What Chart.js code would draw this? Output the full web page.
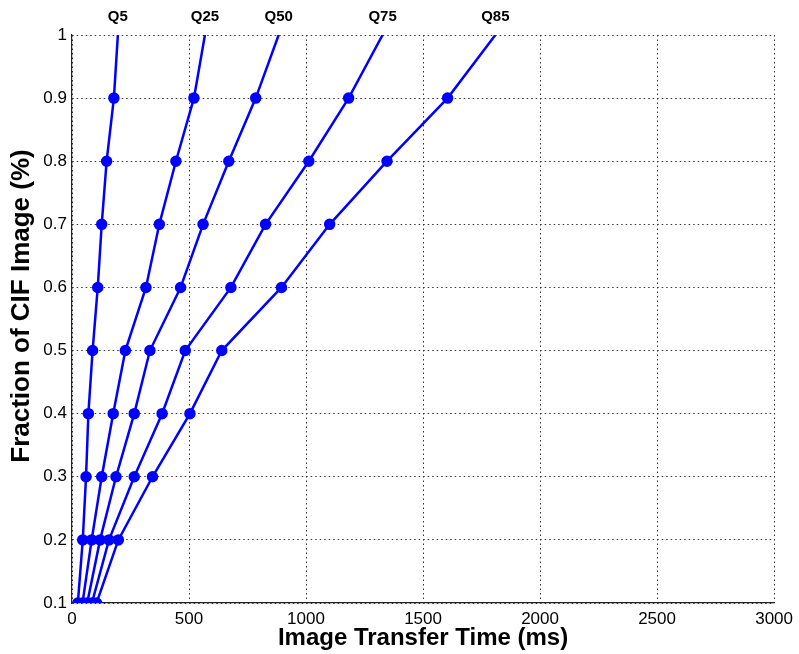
<!DOCTYPE html>
<html>
<head>
  <title>Image Transfer Time</title>
  <script src="https://cdn.jsdelivr.net/npm/chart.js"></script>
  <style>
    html, body { margin: 0; padding: 0; background: #fff; }
  </style>
</head>
<body>
  <canvas id="myChart" width="799" height="654"></canvas>

  <script>
// Fraction of the image received (y) against transfer time in ms (x)
const fractions = [0.1, 0.2, 0.3, 0.4, 0.5, 0.6, 0.7, 0.8, 0.9, 1.0];
const seriesNames = ['Q5', 'Q25', 'Q50', 'Q75', 'Q85'];

const q5  = [25, 46, 60, 70, 88, 110, 127, 148, 179, 196];
const q25 = [45, 84, 127, 176, 228, 316, 373, 444, 521, 568];
const q50 = [65, 120, 188, 266, 333, 464, 560, 670, 785, 883];
const q75 = [85, 158, 266, 385, 484, 679, 827, 1012, 1182, 1327];
const q85 = [105, 198, 344, 504, 640, 895, 1101, 1346, 1605, 1809];

const xTicks = [0, 500, 1000, 1500, 2000, 2500, 3000];
const yTicks = [0.1, 0.2, 0.3, 0.4, 0.5, 0.6, 0.7, 0.8, 0.9, 1.0];

const allSeries = [q5, q25, q50, q75, q85];

const font = '"Liberation Sans", Arial, sans-serif';

const datasets = allSeries.map((values, i) => ({
  label: seriesNames[i],
  data: values.map((t, j) => ({ x: t, y: fractions[j] })),
  borderColor: '#0000ff',
  backgroundColor: '#0000ff',
  borderWidth: 2.5,
  // no marker on the last point, the line just runs to the top edge
  pointRadius: values.map((v, j) => j === values.length - 1 ? 0 : 4.5),
  pointHoverRadius: 4.5,
  tension: 0
}));

// Q labels above the end of each curve, and the y title (sits a bit above centre)
const extraText = {
  id: 'extraText',
  afterDraw(chart) {
    const c = chart.ctx;
    const xs = chart.scales.x;
    c.save();
    c.font = 'bold 15px ' + font;
    c.fillStyle = '#000';
    c.textAlign = 'center';
    c.textBaseline = 'middle';
    allSeries.forEach((values, i) => {
      c.fillText(seriesNames[i], xs.getPixelForValue(values[values.length - 1]), 17);
    });

    c.translate(22, 306);
    c.rotate(-Math.PI / 2);
    c.font = 'bold 26px ' + font;
    c.fillText('Fraction of CIF Image (%)', 0, 0);
    c.restore();
  }
};

const ctx = document.getElementById('myChart');
const chart = new Chart(ctx, {
  type: 'line',
  data: { datasets: datasets },
  options: {
    responsive: false,
    animation: false,
    layout: { padding: { top: 35, right: 24, left: 0, bottom: 0 } },
    plugins: {
      legend: { display: false },
      tooltip: { enabled: false }
    },
    scales: {
      x: {
        type: 'linear',
        min: 0,
        max: 3000,
        afterBuildTicks: scale => { scale.ticks = xTicks.map(v => ({ value: v })); },
        afterFit: scale => { scale.height = 51; },
        grid: { color: '#333', lineWidth: 1, drawTicks: false },
        // in v4 border.dash styles the grid lines, the axis line stays solid
        border: { display: true, color: '#222', width: 1.2, dash: [1.5, 3] },
        ticks: {
          color: '#000',
          padding: 6,
          callback: v => String(v),
          font: { family: font, size: 17 }
        },
        title: {
          display: true,
          text: 'Image Transfer Time (ms)',
          color: '#000',
          padding: { top: 0, bottom: 1 },
          font: { family: font, size: 24, weight: 'bold' }
        }
      },
      y: {
        type: 'linear',
        min: 0.1,
        max: 1,
        afterBuildTicks: scale => { scale.ticks = yTicks.map(v => ({ value: v })); },
        afterFit: scale => { scale.width = 72; },
        grid: { color: '#333', lineWidth: 1, drawTicks: false },
        border: { display: true, color: '#222', width: 1.2, dash: [1.5, 3] },
        ticks: {
          color: '#000',
          padding: 5,
          callback: v => String(Math.round(v * 10) / 10),
          font: { family: font, size: 17 }
        }
      }
    }
  },
  plugins: [extraText]
});
  </script>
</body>
</html>
